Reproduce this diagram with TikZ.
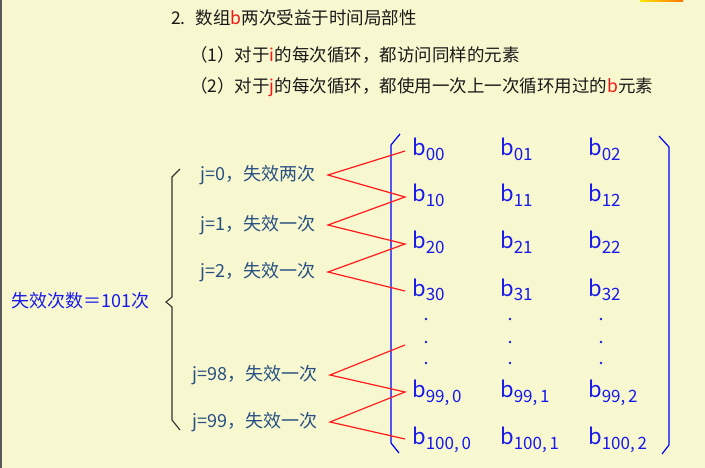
\documentclass[tikz,border=0pt]{standalone}
\usepackage{fontspec}
\setmainfont{Noto Sans CJK SC}
\usetikzlibrary{calc}

\definecolor{paper}{RGB}{248,248,208}
\definecolor{jtext}{RGB}{40,80,130}
\definecolor{mblue}{RGB}{25,25,235}
\definecolor{hred}{RGB}{250,20,20}
\newcommand{\bent}[1]{{\fontsize{22}{22}\selectfont b}{\fontsize{17}{17}\selectfont\raisebox{-5pt}{#1}}}

\begin{document}
\begin{tikzpicture}[x=1pt,y=-1pt,
    head/.style={anchor=west,inner sep=0pt,text=black!90,font=\fontsize{17.5}{17.5}\selectfont},
    jlab/.style={anchor=east,inner sep=0pt,text=jtext,font=\fontsize{18}{18}\selectfont},
    entry/.style={anchor=base west,inner sep=0pt,text=mblue},
    zig/.style={red!90,line width=1.2pt},
    bar/.style={blue,line width=1.2pt}]
  \path[fill=paper] (0,0) rectangle (705,468);
  \path[fill=black!65] (0,0) rectangle (2,468);
  \path[left color=yellow!80!orange,right color=orange!90!red] (640,0) rectangle (683,2);
  \useasboundingbox (0,0) rectangle (705,468);

  \node[head] (t0) at (171,18) {2.\hspace{10pt}数组\textcolor{hred}{b}两次受益于时间局部性};
  \node[head] (t1) at (190,55) {（1）对于\textcolor{hred}{i}的每次循环，都访问同样的元素};
  \node[head] (t2) at (190,87) {（2）对于\textcolor{hred}{j}的每次循环，都使用一次上一次循环用过的\textcolor{hred}{b}元素};

  \node[anchor=west,inner sep=0pt,text=mblue,font=\fontsize{18}{18}\selectfont] (cnt) at (11,301) {失效次数＝101次};
  \draw[black!80,line width=1.1pt] (180,169) -- (172,177) -- (172,297) -- (166,302) -- (172,307) -- (172,420) -- (180,430);

  \node[jlab] (j0) at (316,175) {j=0，失效两次};
  \node[jlab] (j1) at (316,225) {j=1，失效一次};
  \node[jlab] (j2) at (316,272) {j=2，失效一次};
  \node[jlab] (j98) at (318,375) {j=98，失效一次};
  \node[jlab] (j99) at (318,422) {j=99，失效一次};

  \foreach \r/\y in {0/156,1/202,2/249,3/296}
    \foreach \c/\x in {0/412,1/500,2/588}
      \node[entry] (b\r-\c) at (\x,\y) {\bent{\r\c}};
  \foreach \r/\y in {99/397,100/444}
    \foreach \c/\x in {0/412,1/500,2/588}
      \node[entry] (b\r-\c) at (\x,\y) {\bent{\r,\,\c}};
  \foreach \x in {426,510,601}
    \foreach \y in {319,342,363}
      \fill[mblue] (\x,\y) circle [radius=1.4];

  \draw[bar] (400,134) -- (391,145) -- (391,443) -- (399,453);
  \draw[bar] (659,136) -- (669,147) -- (669,445) -- (662,454);

  \foreach \j in {0,1,2,98,99}
    \coordinate (L\j) at ($ (j\j.east) + (12,0) $);
  \foreach \r in {0,1,2,3,99,100}
    \coordinate (R\r) at ($ (b\r-0.base west) + (-7,-5) $);
  \coordinate (Rmid) at ($ (R99) + (0,-47) $);

  \draw[zig] (R0) -- (L0) -- (R1) -- (L1) -- (R2) -- (L2) -- (R3);
  \draw[zig] (Rmid) -- (L98) -- (R99) -- (L99) -- (R100);
\end{tikzpicture}
\end{document}
